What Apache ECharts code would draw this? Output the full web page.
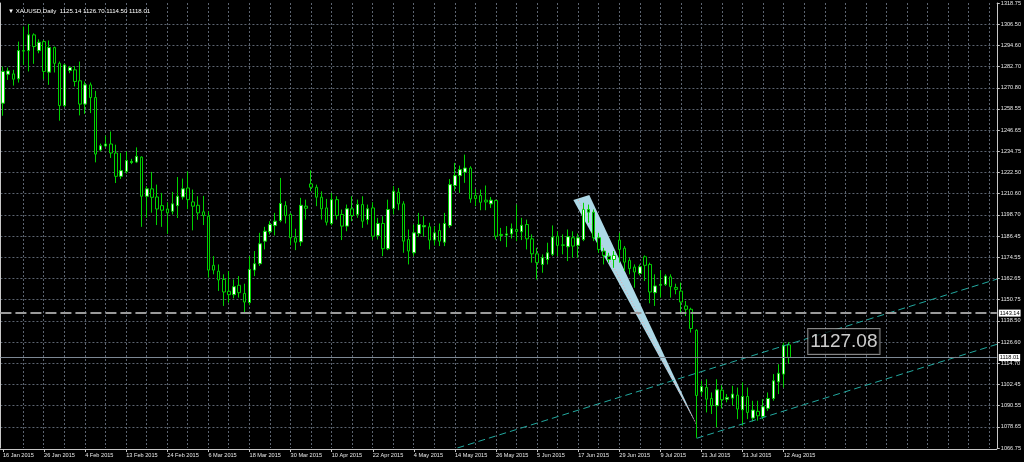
<!DOCTYPE html>
<html><head><meta charset="utf-8">
<script src="https://cdn.jsdelivr.net/npm/echarts@6/dist/echarts.min.js"></script>
<style>html,body{margin:0;padding:0;background:#000;}#c{width:1024px;height:462px;}</style>
</head><body><div id="c"></div>
<script>
const symbolName = 'XAUUSD';
const timeframe = 'Daily';
const xLabels = ['16 Jan 2015','26 Jan 2015','4 Feb 2015','13 Feb 2015','24 Feb 2015','6 Mar 2015','18 Mar 2015','30 Mar 2015','10 Apr 2015','22 Apr 2015','4 May 2015','14 May 2015','26 May 2015','5 Jun 2015','17 Jun 2015','29 Jun 2015','9 Jul 2015','21 Jul 2015','31 Jul 2015','12 Aug 2015'];
const yLabels = ['1066.75','1078.65','1090.55','1102.45','1114.70','1126.60','1138.50','1150.75','1162.65','1174.55','1186.45','1198.70','1210.60','1222.50','1234.75','1246.65','1258.55','1270.80','1282.70','1294.60','1306.50','1318.75'];
const priceMin = 1066.75, priceMax = 1318.75;
const totalSlots = 194;
const labelEvery = 8;

const opens = [1262.0,1278.4,1278.6,1275.8,1291.8,1291.8,1300.7,1291.8,1296.9,1279.6,
1293.5,1284.6,1260.7,1280.5,1280.9,1274.7,1261.5,1272.4,1265.2,1235.5,
1237.8,1238.9,1233.8,1220.6,1223.4,1228.4,1228.7,1231.5,1209.3,1213.5,
1208.9,1204.0,1202.1,1200.8,1204.0,1208.9,1214.0,1206.1,1204.2,1200.5,
1198.0,1170.2,1166.9,1162.2,1155.5,1153.6,1158.9,1154.3,1149.1,1167.5,
1171.1,1183.9,1189.2,1192.7,1195.6,1204.0,1199.0,1185.8,1183.5,1203.7,
1216.3,1214.4,1208.8,1202.7,1193.9,1207.4,1199.0,1192.4,1202.2,1199.0,
1204.6,1196.1,1202.7,1187.1,1193.9,1179.6,1202.4,1211.6,1205.0,1184.8,
1177.3,1188.2,1192.0,1192.0,1184.5,1189.9,1183.3,1192.7,1215.4,1221.0,
1222.9,1225.3,1209.7,1209.7,1207.1,1205.0,1206.9,1187.7,1187.3,1188.0,
1190.5,1189.2,1193.3,1185.2,1176.7,1170.7,1173.5,1176.4,1186.7,1181.8,
1180.7,1185.8,1181.5,1184.8,1201.8,1200.3,1185.8,1178.3,1175.4,1173.5,
1184.5,1179.9,1173.0,1169.2,1165.6,1175.0,1170.7,1154.7,1158.9,1159.4,
1163.7,1157.7,1155.6,1147.2,1145.3,1133.4,1098.6,1101.0,1094.8,1090.7,
1099.5,1094.4,1095.0,1096.7,1088.4,1095.9,1083.7,1087.5,1084.6,1089.2,
1094.8,1104.2,1108.6,1125.14];
const closes = [1280.0,1280.3,1275.6,1291.8,1291.5,1300.7,1294.1,1296.5,1280.0,1293.5,
1284.6,1260.7,1283.7,1282.2,1274.3,1261.5,1272.4,1265.2,1233.2,1237.9,
1238.9,1233.8,1220.6,1223.8,1229.5,1229.0,1231.9,1209.3,1213.5,1208.7,
1202.1,1201.4,1199.9,1205.0,1209.3,1213.5,1207.4,1203.7,1199.9,1198.4,
1167.5,1167.5,1161.9,1155.1,1153.6,1158.1,1154.7,1149.4,1167.9,1171.1,
1182.4,1189.5,1193.3,1195.2,1205.2,1198.4,1185.8,1183.3,1204.2,1202.5,
1214.4,1208.8,1202.2,1194.6,1207.4,1198.4,1192.4,1202.2,1198.4,1204.6,
1195.2,1202.2,1186.7,1193.9,1179.6,1201.8,1212.2,1205.0,1183.9,1178.3,
1188.6,1193.3,1192.7,1184.5,1188.6,1183.9,1193.9,1215.9,1221.0,1224.4,
1225.3,1207.8,1208.0,1205.9,1206.1,1207.1,1186.7,1187.1,1188.0,1190.9,
1189.4,1192.9,1185.2,1176.7,1171.7,1174.5,1177.3,1186.2,1181.5,1181.5,
1186.4,1181.1,1185.8,1201.8,1200.3,1185.8,1179.2,1175.8,1173.5,1175.8,
1179.2,1172.0,1168.3,1166.4,1169.4,1170.2,1155.1,1158.5,1159.4,1164.1,
1158.1,1156.6,1149.4,1145.3,1134.4,1096.5,1101.6,1094.4,1090.7,1099.7,
1094.1,1095.4,1097.3,1088.8,1095.9,1086.9,1088.2,1085.0,1090.1,1094.8,
1104.8,1109.1,1124.9,1118.01];
const lows = [1254.9,1275.2,1272.0,1273.7,1283.7,1280.0,1284.3,1290.3,1275.6,1272.4,
1279.4,1252.1,1259.8,1279.0,1271.5,1255.1,1256.0,1256.4,1228.5,1234.7,
1237.0,1231.0,1216.8,1219.1,1222.1,1227.5,1228.1,1192.0,1197.1,1200.0,
1193.0,1192.0,1188.0,1199.0,1197.0,1207.4,1202.0,1190.0,1196.0,1193.0,
1163.2,1165.1,1155.7,1147.2,1149.1,1151.5,1151.9,1143.2,1147.6,1164.1,
1169.8,1179.2,1187.7,1187.1,1194.6,1193.9,1181.5,1178.8,1181.1,1196.1,
1212.2,1203.7,1196.1,1192.8,1192.8,1196.1,1184.5,1189.5,1195.2,1197.1,
1191.4,1193.3,1184.5,1184.8,1175.4,1178.8,1199.0,1201.4,1177.3,1170.7,
1175.4,1186.4,1186.4,1179.2,1181.4,1181.1,1181.1,1191.4,1212.2,1211.2,
1216.9,1205.6,1203.7,1201.4,1201.4,1202.7,1184.8,1183.9,1180.5,1185.4,
1183.9,1184.5,1179.2,1171.7,1162.2,1166.0,1170.7,1175.4,1175.4,1176.4,
1172.6,1174.5,1174.5,1183.9,1194.3,1183.9,1177.3,1170.7,1171.7,1168.8,
1171.7,1166.9,1165.1,1157.5,1164.5,1161.3,1148.7,1147.2,1151.9,1158.5,
1151.9,1153.8,1142.5,1141.5,1132.1,1072.5,1096.3,1086.9,1086.0,1078.4,
1089.2,1092.6,1090.7,1083.1,1079.4,1083.1,1081.8,1082.2,1083.1,1087.8,
1093.5,1097.3,1101.0,1114.50];
const highs = [1282.8,1282.2,1280.9,1296.9,1305.4,1306.9,1301.6,1298.2,1297.8,1297.5,
1294.1,1285.6,1284.3,1283.1,1283.1,1285.6,1274.3,1273.7,1269.0,1239.1,
1243.6,1246.0,1238.5,1233.8,1234.7,1230.5,1237.0,1231.9,1215.0,1223.1,
1215.9,1211.2,1205.9,1211.8,1220.2,1219.3,1223.4,1213.1,1209.3,1209.5,
1200.8,1175.4,1170.7,1165.1,1166.9,1162.2,1164.1,1159.8,1175.4,1178.3,
1188.6,1192.0,1195.2,1199.9,1219.7,1206.5,1199.9,1190.9,1208.4,1207.4,
1224.0,1215.9,1212.1,1207.8,1211.2,1209.3,1201.8,1204.6,1209.3,1207.4,
1209.3,1204.6,1205.9,1197.1,1198.0,1207.4,1215.0,1214.0,1206.5,1190.5,
1193.3,1199.9,1198.0,1194.3,1192.4,1193.9,1199.9,1219.1,1228.2,1226.7,
1232.9,1226.3,1213.5,1213.1,1215.4,1208.9,1207.4,1191.4,1192.4,1193.9,
1204.6,1197.1,1196.1,1187.7,1180.1,1176.4,1183.0,1192.8,1189.5,1187.7,
1190.5,1189.5,1188.2,1205.6,1204.6,1201.8,1188.6,1180.1,1177.3,1178.3,
1188.6,1181.1,1174.5,1170.7,1170.7,1175.8,1171.7,1165.1,1167.5,1165.1,
1165.1,1159.8,1160.4,1150.0,1146.2,1134.0,1104.8,1105.7,1098.2,1105.7,
1102.3,1097.3,1102.0,1101.0,1103.9,1101.0,1093.5,1093.5,1094.4,1098.2,
1108.6,1114.2,1126.4,1126.70];

// chart objects (bar index, price)
const horizontalLine = 1143.14;
const bidLine = 1118.01;
const triangle = [[111.06, 1207.2], [114.17, 1210.0], [135.07, 1079.8]];
const dottedTrend = [[112.0, 1207.2], [135.07, 1079.8]];
const upperChannel = [[88.5, 1066.75], [193.5, 1162.4]];
const lowerChannel = [[135.07, 1072.25], [193.5, 1125.5]];
const priceTag = [[156.67, 1127.08]];

const FONT = 'Liberation Sans';
const W = 997, bw = W / totalSlots;
const gridTop = 3, gridH = 445;
const gridColor = '#5c6470';
const axisColor = '#c8c8c8';
const last = opens.length - 1;

const slots = Array.from({length: totalSlots}, (_, i) => String(i));
const candles = opens.map((o, i) => [o, closes[i], lows[i], highs[i]]);
const isLabel = (i) => i % labelEvery === 0 && i / labelEvery < xLabels.length;

const chart = echarts.init(document.getElementById('c'), null, {renderer: 'canvas'});
chart.setOption({
  backgroundColor: '#000',
  animation: false,
  title: {
    text: '\u25BC ' + symbolName + ',' + timeframe + '  ' +
      [opens[last], highs[last], lows[last], closes[last]].map(v => v.toFixed(2)).join(' '),
    left: 3, top: 3,
    textStyle: {color: '#ffffff', fontSize: 6.1, fontWeight: 'normal', fontFamily: FONT}
  },
  grid: [
    {left: 0, top: gridTop, width: W, height: gridH},
    {left: bw / 2, top: gridTop, width: W - bw / 2, height: gridH}
  ],
  xAxis: [
    {type: 'category', gridIndex: 0, data: slots, boundaryGap: true, offset: 1,
     axisLine: {show: true, onZero: false, lineStyle: {color: axisColor, width: 1}},
     axisTick: {show: true, interval: isLabel, alignWithLabel: true, length: 3, lineStyle: {color: axisColor}},
     axisLabel: {show: true, interval: isLabel, formatter: (v, i) => xLabels[i / labelEvery] || '',
       align: 'left', margin: 3, color: '#e8e8e8', fontSize: 5.6, fontFamily: FONT},
     splitLine: {show: false}},
    {type: 'value', gridIndex: 1, min: 0, max: totalSlots - 0.5, interval: 4,
     axisLine: {show: false}, axisTick: {show: false}, axisLabel: {show: false},
     splitLine: {show: true, showMinLine: false, showMaxLine: false, lineStyle: {color: gridColor, type: [2, 2], width: 1}}}
  ],
  yAxis: [
    {type: 'value', gridIndex: 0, min: priceMin, max: priceMax, position: 'left',
     axisLine: {show: true, onZero: false, lineStyle: {color: axisColor}},
     axisTick: {show: false}, axisLabel: {show: false}, splitLine: {show: false}},
    {type: 'value', gridIndex: 0, min: 0, max: yLabels.length - 1, interval: 1, position: 'right',
     axisLine: {show: true, onZero: false, lineStyle: {color: axisColor}},
     axisTick: {show: true, length: 3, lineStyle: {color: axisColor}},
     axisLabel: {formatter: v => yLabels[v], margin: 4, color: '#e8e8e8', fontSize: 5.6, fontFamily: FONT},
     splitLine: {show: true, showMinLine: false, showMaxLine: false, lineStyle: {color: gridColor, type: [2, 2], width: 1}}},
    {type: 'value', gridIndex: 1, min: priceMin, max: priceMax, show: false}
  ],
  series: [
    {type: 'custom', name: 'triangle', xAxisIndex: 1, yAxisIndex: 2, z: 1, silent: true,
     data: triangle,
     renderItem: (params, api) => {
       if (params.dataIndex !== 0) return null;
       const pts = triangle.map(p => api.coord(p));
       return {type: 'polygon', shape: {points: pts}, style: {fill: '#add8e6'}};
     }},
    {type: 'line', name: 'dotted', xAxisIndex: 1, yAxisIndex: 2, z: 2, data: dottedTrend,
     showSymbol: false, silent: true, lineStyle: {color: '#e8a0a8', width: 1, type: [1, 2]}},
    {type: 'candlestick', name: 'XAUUSD', xAxisIndex: 0, yAxisIndex: 0, z: 3,
     data: candles, barWidth: 3,
     itemStyle: {color: '#ffffff', color0: '#000000', borderColor: '#00d200', borderColor0: '#00d200',
       borderColorDoji: '#00d200', borderWidth: 1},
     markLine: {
       symbol: ['none', 'none'], silent: true, animation: false,
       label: {show: true, position: 'end', distance: 2, formatter: p => Number(p.value).toFixed(2),
         color: '#000', backgroundColor: '#ffffff', padding: [1, 1, 0, 1], fontSize: 5.6, fontFamily: FONT},
       data: [
         {yAxis: horizontalLine, lineStyle: {color: '#9a9a9a', type: [11, 4], width: 2}},
         {yAxis: bidLine, lineStyle: {color: '#7d8894', type: 'solid', width: 1}}
       ]
     }},
    {type: 'line', name: 'upper', xAxisIndex: 1, yAxisIndex: 2, z: 4, data: upperChannel,
     showSymbol: false, silent: true, lineStyle: {color: '#22a89f', width: 1, type: [7, 4]}},
    {type: 'line', name: 'lower', xAxisIndex: 1, yAxisIndex: 2, z: 4, data: lowerChannel,
     showSymbol: false, silent: true, lineStyle: {color: '#22a89f', width: 1, type: [7, 4]}},
    {type: 'scatter', name: 'tag', xAxisIndex: 1, yAxisIndex: 2, z: 5, data: priceTag,
     symbolSize: 1, itemStyle: {color: 'rgba(0,0,0,0)'}, silent: true,
     label: {show: true, position: 'right', distance: 0, formatter: p => p.value[1].toFixed(2),
       color: '#ffffff', fontSize: 19, lineHeight: 22, fontFamily: FONT,
       backgroundColor: '#000', borderColor: '#a8a8a8', borderWidth: 1, padding: [2, 2, 1, 2]}}
  ]
});
</script></body></html>
